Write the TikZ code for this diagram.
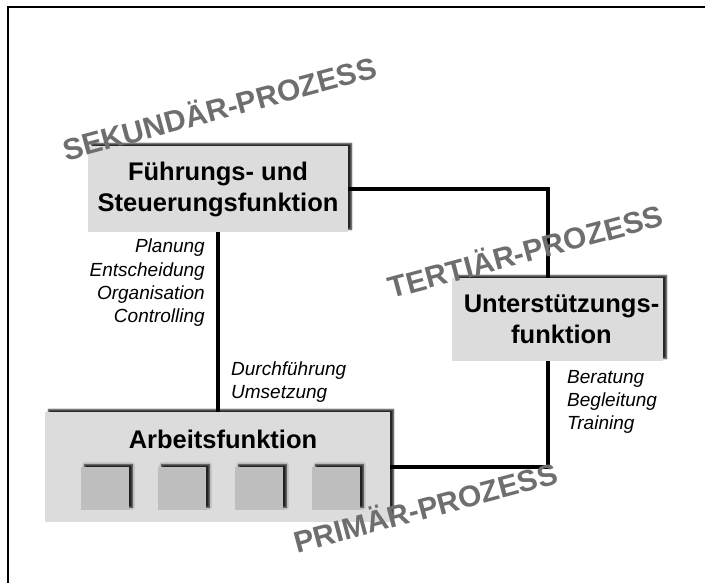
\documentclass[tikz,border=0pt]{standalone}
\usepackage{fontspec}
\setmainfont{Liberation Sans}
\usetikzlibrary{shadows.blur}
\definecolor{boxfill}{HTML}{DCDCDC}
\definecolor{cellfill}{HTML}{BEBEBE}
\definecolor{procgray}{HTML}{6E6E6E}
\begin{document}
\begin{tikzpicture}[x=1pt,y=-1pt,
  softshadow/.style={blur shadow={shadow xshift=3.5pt, shadow yshift=2.5pt,
      shadow blur radius=1.6pt, shadow opacity=85}},
  funcbox/.style={fill=boxfill, draw=none, inner sep=0pt, align=center,
      font=\bfseries\fontsize{25.5}{31}\selectfont, softshadow},
  cell/.style={fill=cellfill, draw=none, inner sep=0pt,
      minimum width=48pt, minimum height=43pt, softshadow},
  link/.style={line width=3.5pt},
  task/.style={font=\itshape\fontsize{19}{23.3}\selectfont, inner sep=0pt},
  proc/.style={font=\bfseries\fontsize{30}{34}\selectfont, text=procgray,
      rotate=15, inner sep=0pt}]
  \useasboundingbox (0,0) rectangle (705,583);

  % frame
  \coordinate (fbl) at (8,583);
  \coordinate (ftl) at (8,7);
  \coordinate (ftr) at (705,7);
  \draw[line width=2pt] (fbl) -- (ftl) -- (ftr);

  % function boxes
  \node[funcbox, minimum width=260pt, minimum height=86pt] (fuehr) at (218,189)
    {Führungs- und\\Steuerungsfunktion};
  \node[funcbox, minimum width=211pt, minimum height=83pt] (unter) at (557.5,319.5)
    {\hspace*{8pt}Unterstützungs-\\\hspace*{8pt}funktion};
  \node[funcbox, minimum width=345pt, minimum height=110pt] (arbeit) at (217.5,467) {};
  \node[font=\bfseries\fontsize{25.5}{31}\selectfont, inner sep=0pt] (arbeitTitel) at (223,439)
    {Arbeitsfunktion};

  % work cells
  \node[cell] (c1) at (105,488.5) {};
  \node[cell] (c2) at (182,488.5) {};
  \node[cell] (c3) at (259,488.5) {};
  \node[cell] (c4) at (336,488.5) {};

  % connectors
  \draw[link] (fuehr.south) -- (arbeit.north -| fuehr.south);
  \draw[link] ([xshift=-9.5pt]unter.north) |- (fuehr.east);
  \draw[link] ([xshift=-9.5pt]unter.south) |- (arbeit.east);

  % activities
  \node[task, anchor=east, align=right] (lead) at (205,283)
    {Planung\\Entscheidung\\Organisation\\Controlling};
  \node[task, anchor=west, align=left] (exec) at (231,382)
    {Durchführung\\Umsetzung};
  \node[task, anchor=west, align=left] (support) at (567,402)
    {Beratung\\Begleitung\\Training};

  % process labels
  \node[proc] (sek) at (219,107) {SEKUNDÄR-PROZESS};
  \node[proc] (ter) at (525,250) {TERTIÄR-PROZESS};
  \node[proc] (pri) at (425,506) {PRIMÄR-PROZESS};
\end{tikzpicture}
\end{document}
